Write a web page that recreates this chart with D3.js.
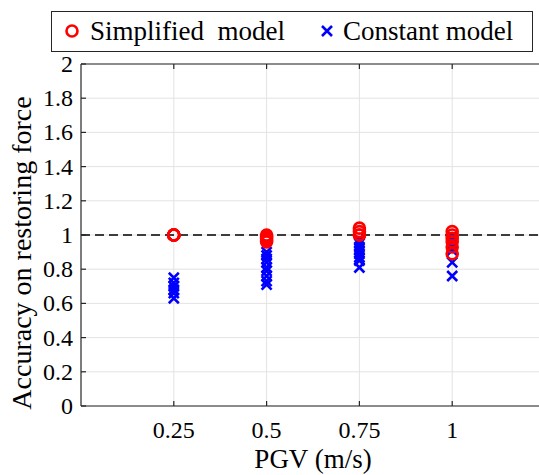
<!DOCTYPE html>
<html>
<head>
<meta charset="utf-8">
<script src="https://cdn.jsdelivr.net/npm/d3@7"></script>
<style>
  html, body { margin: 0; padding: 0; background: #fff; }
  svg { display: block; }
</style>
</head>
<body>
<svg id="chart" width="539" height="475" font-family="'Liberation Serif', 'DejaVu Serif', serif"></svg>
<script>
// PGV levels and accuracy values for each model
const pgvLevels = [0.25, 0.5, 0.75, 1];
const simplifiedValues = [
  [1.0, 1.0, 1.0, 1.0, 1.0, 1.0],
  [1.0, 0.99, 0.98, 0.97, 0.96],
  [1.04, 1.02, 1.0, 1.0],
  [1.02, 1.0, 0.98, 0.96, 0.93, 0.89]
];
const constantValues = [
  [0.75, 0.72, 0.70, 0.68, 0.66, 0.63],
  [0.90, 0.88, 0.86, 0.84, 0.81, 0.79, 0.76, 0.73, 0.71],
  [0.97, 0.95, 0.93, 0.91, 0.89, 0.87, 0.85, 0.81],
  [0.99, 0.98, 0.97, 0.96, 0.95, 0.93, 0.91, 0.84, 0.76]
];
const xTicks = [0.25, 0.5, 0.75, 1];
const xTickLabels = ["0.25", "0.5", "0.75", "1"];
const yTicks = [0, 0.2, 0.4, 0.6, 0.8, 1, 1.2, 1.4, 1.6, 1.8, 2];
const referenceLevel = 1;
const legendLabels = ["Simplified  model", "Constant model"];

const svg = d3.select("#chart");
const plotLeft = 81, plotRight = 545, plotTop = 64, plotBottom = 406;

const x = d3.scaleLinear().domain([0, 1.25]).range([plotLeft, plotRight]);
const y = d3.scaleLinear().domain([0, 2]).range([plotBottom, plotTop]);

const gridColor = "#e3e3e3";
const axisColor = "#262626";

// grid
const grid = svg.append("g");
grid.selectAll(".gx").data(xTicks).join("line")
  .attr("x1", d => x(d)).attr("x2", d => x(d))
  .attr("y1", plotTop).attr("y2", plotBottom)
  .attr("stroke", gridColor).attr("stroke-width", 1);
grid.selectAll(".gy").data(yTicks).join("line")
  .attr("x1", plotLeft).attr("x2", plotRight)
  .attr("y1", d => y(d)).attr("y2", d => y(d))
  .attr("stroke", gridColor).attr("stroke-width", 1);

// reference dashed line
svg.append("line")
  .attr("x1", plotLeft).attr("x2", plotRight)
  .attr("y1", y(referenceLevel)).attr("y2", y(referenceLevel))
  .attr("stroke", "#000").attr("stroke-width", 1.3)
  .attr("stroke-dasharray", "9,5");

// constant model crosses
const crossSize = 5;
const crossData = [];
constantValues.forEach((vals, i) => vals.forEach(v => crossData.push({ x: pgvLevels[i], y: v })));
svg.append("g").selectAll("path").data(crossData).join("path")
  .attr("d", d => {
    const cx = x(d.x), cy = y(d.y), s = crossSize;
    return `M${cx - s},${cy - s}L${cx + s},${cy + s}M${cx - s},${cy + s}L${cx + s},${cy - s}`;
  })
  .attr("stroke", "#0000ff").attr("stroke-width", 2.6).attr("fill", "none");

// simplified model circles
const circleData = [];
simplifiedValues.forEach((vals, i) => vals.forEach(v => circleData.push({ x: pgvLevels[i], y: v })));
svg.append("g").selectAll("circle").data(circleData).join("circle")
  .attr("cx", d => x(d.x)).attr("cy", d => y(d.y)).attr("r", 5.5)
  .attr("fill", "none").attr("stroke", "#ff0000").attr("stroke-width", 2.6);

// axes frame
svg.append("line").attr("x1", plotLeft).attr("x2", plotLeft).attr("y1", plotTop).attr("y2", plotBottom)
  .attr("stroke", axisColor).attr("stroke-width", 1.2);
svg.append("line").attr("x1", plotLeft).attr("x2", plotRight).attr("y1", plotBottom).attr("y2", plotBottom)
  .attr("stroke", axisColor).attr("stroke-width", 1.2);
svg.append("line").attr("x1", plotLeft).attr("x2", plotRight).attr("y1", plotTop).attr("y2", plotTop)
  .attr("stroke", axisColor).attr("stroke-width", 1.2);

// ticks point inward
const tickLen = 5;
svg.append("g").selectAll("line").data(xTicks).join("line")
  .attr("x1", d => x(d)).attr("x2", d => x(d))
  .attr("y1", plotBottom).attr("y2", plotBottom - tickLen)
  .attr("stroke", axisColor).attr("stroke-width", 1.2);
svg.append("g").selectAll("line").data(xTicks).join("line")
  .attr("x1", d => x(d)).attr("x2", d => x(d))
  .attr("y1", plotTop).attr("y2", plotTop + tickLen)
  .attr("stroke", axisColor).attr("stroke-width", 1.2);
svg.append("g").selectAll("line").data(yTicks).join("line")
  .attr("x1", plotLeft).attr("x2", plotLeft + tickLen)
  .attr("y1", d => y(d)).attr("y2", d => y(d))
  .attr("stroke", axisColor).attr("stroke-width", 1.2);

// tick labels
svg.append("g").selectAll("text").data(xTicks).join("text")
  .attr("x", d => x(d)).attr("y", 438)
  .attr("text-anchor", "middle").attr("font-size", 24)
  .text((d, i) => xTickLabels[i]);
svg.append("g").selectAll("text").data(yTicks).join("text")
  .attr("x", 73).attr("y", d => y(d) + 8)
  .attr("text-anchor", "end").attr("font-size", 24)
  .text(d => d3.format("~g")(d));

// axis titles
svg.append("text").attr("x", x(0.625)).attr("y", 468)
  .attr("text-anchor", "middle").attr("font-size", 27)
  .text("PGV (m/s)");
svg.append("text")
  .attr("transform", `translate(31, 253) rotate(-90)`)
  .attr("text-anchor", "middle").attr("font-size", 28)
  .text("Accuracy on restoring force");

// legend
const lg = svg.append("g");
lg.append("rect").attr("x", 51.5).attr("y", 11.5).attr("width", 481).attr("height", 40)
  .attr("fill", "#fff").attr("stroke", axisColor).attr("stroke-width", 1);
lg.append("circle").attr("cx", 72).attr("cy", 31).attr("r", 5.5)
  .attr("fill", "none").attr("stroke", "#ff0000").attr("stroke-width", 2.6);
lg.append("text").attr("x", 90).attr("y", 40).attr("font-size", 27)
  .style("white-space", "pre").text(legendLabels[0]);
lg.append("path")
  .attr("d", `M${327 - 5},${31 - 5}L${327 + 5},${31 + 5}M${327 - 5},${31 + 5}L${327 + 5},${31 - 5}`)
  .attr("stroke", "#0000ff").attr("stroke-width", 2.6);
lg.append("text").attr("x", 343).attr("y", 40).attr("font-size", 27)
  .text(legendLabels[1]);
</script>
</body>
</html>
